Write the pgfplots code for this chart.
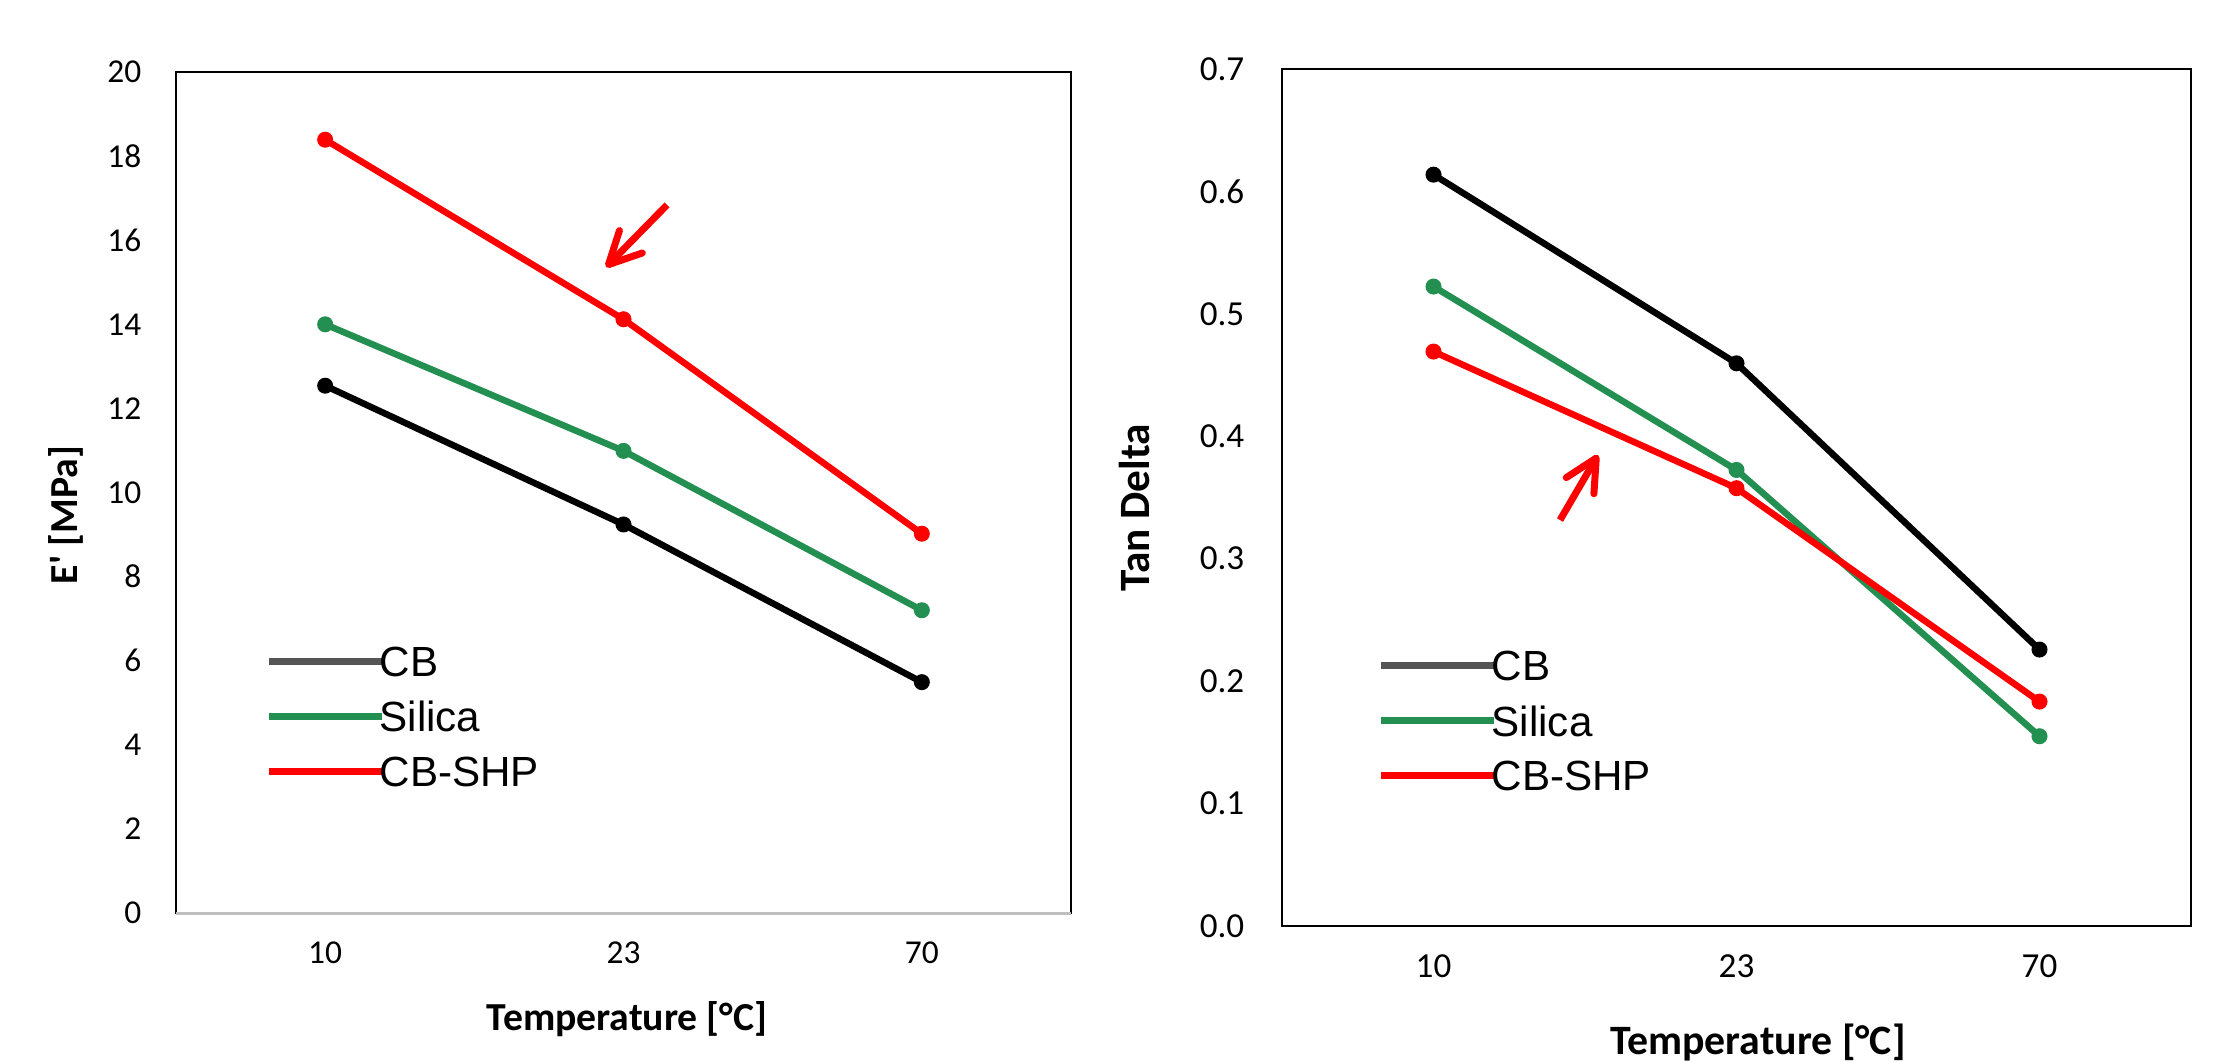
\documentclass[border=0pt]{standalone}
\usepackage{fontspec}
\setmainfont{Carlito}
\newfontfamily\arialfont{Liberation Sans}
\usepackage{pgfplots}
\pgfplotsset{compat=1.18}
\usetikzlibrary{arrows.meta}
\definecolor{sgreen}{RGB}{35,143,80}
\definecolor{legblack}{RGB}{85,85,85}
\definecolor{axgray}{RGB}{191,191,191}
\pgfplotsset{
 common/.style={
  scale only axis, xmin=-0.5, xmax=2.5, xtick={0,1,2}, xticklabels={10,23,70},
  major tick length=0pt, axis line style={black, line width=0.25mm},
  /pgf/number format/assume math mode=true,
  xticklabel style={anchor=center, inner sep=0pt, yshift=-4mm},
  clip=false,
  every axis plot/.append style={line width=0.65mm, mark=*, mark size=0.7mm, mark options={line width=0.2mm}},
  legend style={draw=none, fill=none, inner sep=0pt, anchor=north west,
    font=\arialfont\fontsize{12}{14}\selectfont, row sep=2.5mm,
    nodes={inner sep=0pt, text depth=0pt},
    /tikz/every odd column/.append style={column sep=-0.6mm},
    /tikz/every even column/.append style={column sep=0pt}},
  legend cell align=left,
  legend image code/.code={\draw[#1, line width=0.7mm] (0mm,0mm) -- (11.3mm,0mm);},
 }
}
\begin{document}
\begin{tikzpicture}
\path[use as bounding box] (0,0) rectangle (221.4mm,106.1mm);
% left axis
\begin{axis}[common, at={(17.6mm,14.8mm)}, anchor=south west,
  width=89.5mm, height=84.1mm, ymin=0, ymax=20, ytick={0,2,...,20},
  tick label style={font=\fontsize{9.5}{11}\selectfont},
  yticklabel style={anchor=east, inner sep=0pt, xshift=-3.4mm},
  legend style={at={(0.0994,0.3175)}}]
\addplot[black, forget plot] coordinates {(0,12.54) (1,9.24) (2,5.49)};
\addplot[sgreen, forget plot] coordinates {(0,14.0) (1,10.99) (2,7.2)};
\addplot[red, forget plot] coordinates {(0,18.39) (1,14.12) (2,9.02)};
\draw[axgray, line width=0.3mm] (rel axis cs:0,0) -- (rel axis cs:1,0);
\draw[red, line width=0.7mm, -{Straight Barb[length=3.2mm, width=3.2mm, round]}] (axis cs:1.146,16.84) -- (axis cs:0.9414,15.36);
\addlegendimage{legblack}\addlegendentry{CB}
\addlegendimage{sgreen}\addlegendentry{Silica}
\addlegendimage{red}\addlegendentry{CB-SHP}
\end{axis}
% right axis
\begin{axis}[common, at={(128.2mm,13.5mm)}, anchor=south west,
  width=90.9mm, height=85.7mm, ymin=0, ymax=0.7, ytick={0,0.1,...,0.7},
  tick label style={font=\fontsize{10}{12}\selectfont},
  yticklabel style={anchor=east, inner sep=0pt, xshift=-3.7mm,
    /pgf/number format/fixed, /pgf/number format/fixed zerofill, /pgf/number format/precision=1},
  legend style={at={(0.1045,0.3215)}}]
\addplot[black, forget plot] coordinates {(0,0.6137) (1,0.4596) (2,0.2258)};
\addplot[sgreen, forget plot] coordinates {(0,0.5223) (1,0.3725) (2,0.155)};
\addplot[red, forget plot] coordinates {(0,0.4692) (1,0.3576) (2,0.1833)};
\draw[red, line width=0.7mm, -{Straight Barb[length=3.2mm, width=3.2mm, round]}] (axis cs:0.4175,0.3316) -- (axis cs:0.5429,0.3847);
\addlegendimage{legblack}\addlegendentry{CB}
\addlegendimage{sgreen}\addlegendentry{Silica}
\addlegendimage{red}\addlegendentry{CB-SHP}
\end{axis}
% axis titles
\node[rotate=90, font=\bfseries\fontsize{11.3}{13}\selectfont] at (6.6mm,54.6mm) {E\textquotesingle{} [MPa]};
\node[rotate=90, font=\bfseries\fontsize{12.3}{14}\selectfont] at (113.4mm,55.3mm) {Tan Delta};
\node[anchor=base, font=\bfseries\fontsize{11.3}{13}\selectfont] at (62.7mm,3.1mm) {Temperature [°C]};
\node[anchor=base, font=\bfseries\fontsize{11.9}{14}\selectfont] at (175.8mm,0.7mm) {Temperature [°C]};
\end{tikzpicture}
\end{document}
